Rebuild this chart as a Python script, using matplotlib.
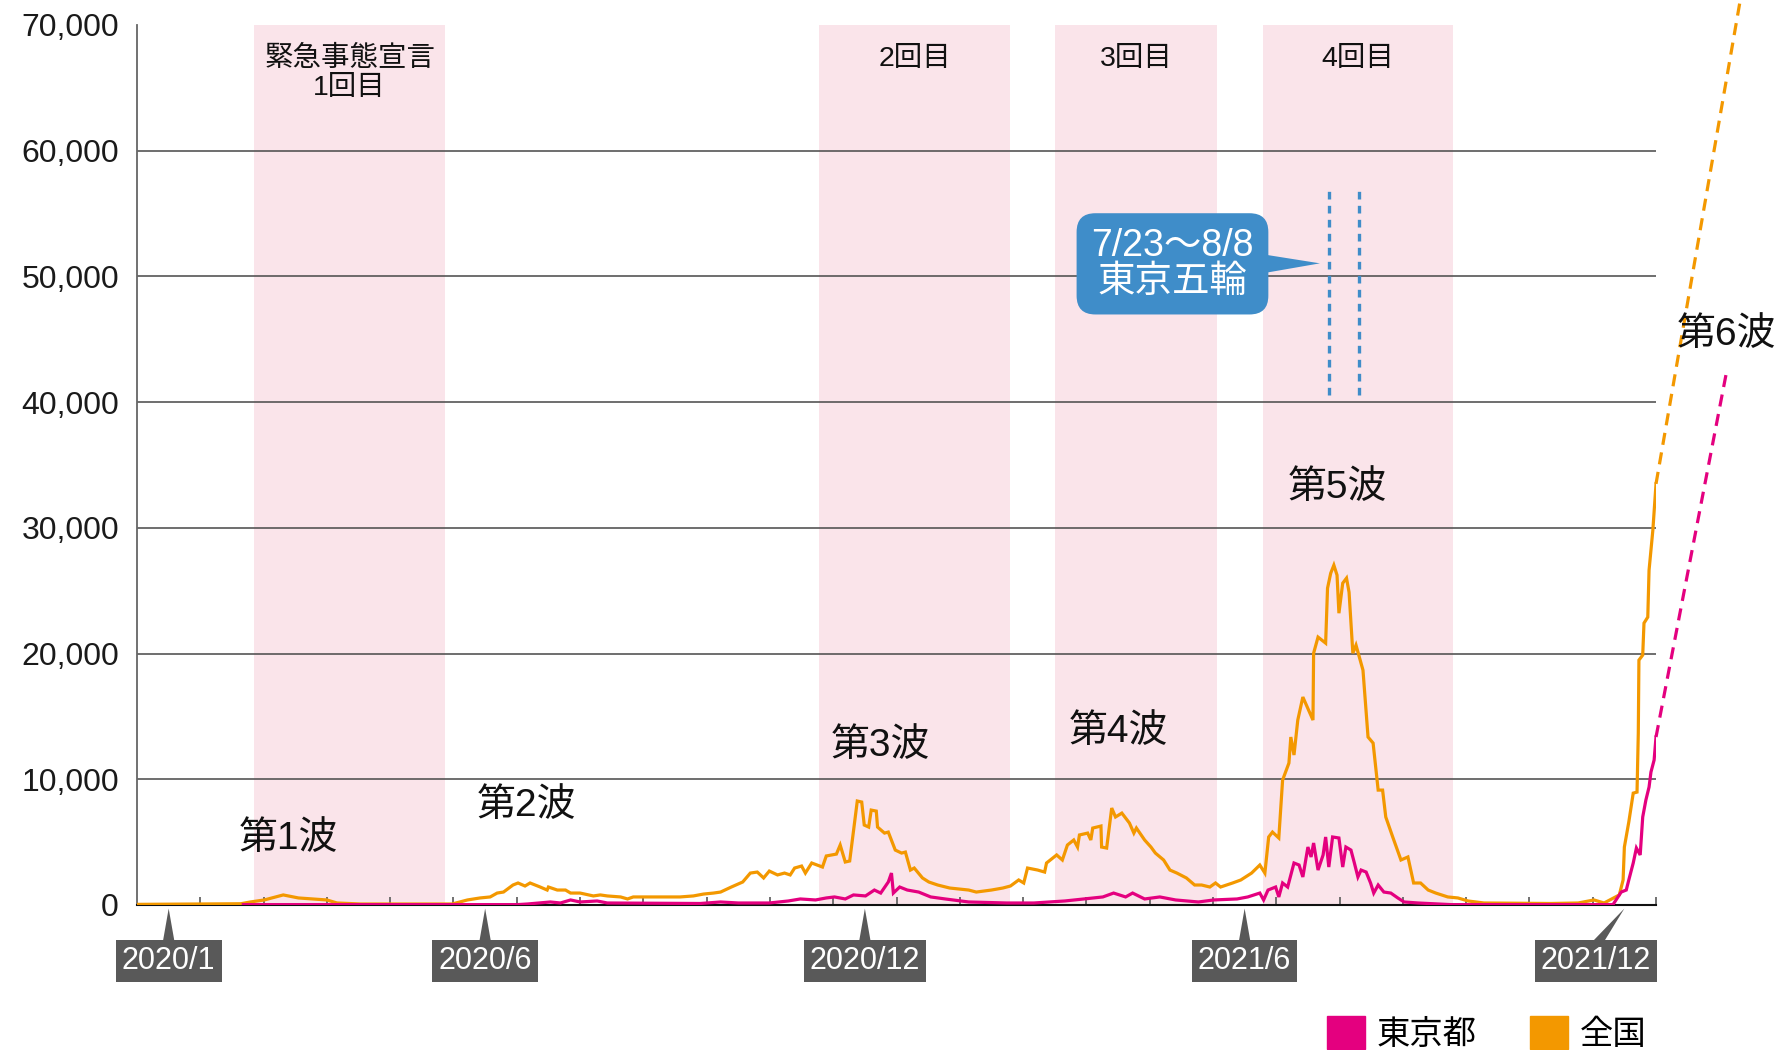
import matplotlib.pyplot as plt
from matplotlib.patches import Patch, Polygon
from matplotlib.transforms import blended_transform_factory

# ------------------------------------------------------------
# データ (x は 2020/1 からの月数、目盛りは各月の境目)
# ------------------------------------------------------------
japan_m = [0.00, 1.64, 1.79, 2.01, 2.31, 2.55, 3.00, 3.16, 3.53, 4.98,
           5.22, 5.42, 5.58, 5.69, 5.79, 5.94, 6.02, 6.13, 6.21, 6.37,
           6.48, 6.50, 6.64, 6.77, 6.85, 7.00, 7.21, 7.32, 7.43, 7.64,
           7.75, 7.84, 8.38, 8.58, 8.79, 8.95, 9.11, 9.22, 9.39, 9.57,
           9.69, 9.80, 9.90, 9.99, 10.12, 10.23, 10.32, 10.39, 10.50, 10.56,
           10.66, 10.83, 10.89, 11.05, 11.11, 11.19, 11.26, 11.38, 11.45, 11.49,
           11.56, 11.60, 11.68, 11.70, 11.81, 11.87, 11.98, 12.08, 12.14, 12.22,
           12.28, 12.41, 12.51, 12.65, 12.84, 13.14, 13.26, 13.50, 13.68, 13.80,
           13.93, 14.01, 14.07, 14.23, 14.34, 14.37, 14.53, 14.62, 14.70, 14.80,
           14.86, 14.89, 15.02, 15.07, 15.10, 15.23, 15.24, 15.32, 15.40, 15.46,
           15.56, 15.68, 15.75, 15.79, 15.92, 16.02, 16.09, 16.22, 16.32, 16.43,
           16.58, 16.71, 16.82, 16.95, 17.04, 17.12, 17.31, 17.44, 17.61, 17.74,
           17.82, 17.88, 17.94, 18.04, 18.10, 18.20, 18.23, 18.28, 18.34, 18.42,
           18.58, 18.59, 18.66, 18.78, 18.81, 18.86, 18.91, 18.96, 18.99, 19.05,
           19.11, 19.15, 19.21, 19.26, 19.37, 19.45, 19.53, 19.61, 19.68, 19.73,
           19.84, 19.97, 20.08, 20.17, 20.28, 20.40, 20.52, 20.71, 20.87, 21.03,
           21.28, 22.34, 22.77, 23.02, 23.18, 23.42, 23.48, 23.50, 23.57, 23.64,
           23.70, 23.72, 23.73, 23.79, 23.81, 23.87, 23.89, 23.95, 24.00]
japan_cases = [50, 100, 240, 400, 800, 560, 400, 160, 80, 80,
               400, 560, 640, 950, 1030, 1590, 1750, 1510, 1750, 1430,
               1190, 1430, 1190, 1190, 950, 950, 720, 800, 720, 640,
               480, 640, 640, 640, 720, 870, 950, 1030, 1430, 1830,
               2540, 2620, 2150, 2700, 2390, 2540, 2390, 2940, 3100, 2540,
               3340, 3020, 3900, 4050, 4770, 3420, 3500, 8270, 8190, 6360,
               6200, 7550, 7470, 6200, 5720, 5800, 4370, 4130, 4210, 2780,
               2940, 2150, 1830, 1590, 1350, 1190, 1030, 1190, 1350, 1510,
               1990, 1750, 2940, 2780, 2620, 3340, 3980, 3580, 4770, 5170,
               4610, 5570, 5720, 5170, 6120, 6280, 4610, 4530, 7710, 7000,
               7310, 6520, 5720, 6120, 5170, 4610, 4130, 3580, 2780, 2540,
               2150, 1590, 1590, 1430, 1750, 1430, 1750, 1990, 2540, 3180,
               2540, 5410, 5800, 5330, 9940, 11290, 13360, 11930, 14710, 16540,
               14710, 20030, 21310, 20830, 25200, 26390, 27030, 26240, 23210, 25600,
               26000, 24880, 20030, 20670, 18680, 13360, 12880, 9140, 9140, 7000,
               5410, 3580, 3820, 1750, 1750, 1190, 950, 640, 560, 320,
               160, 120, 160, 400, 160, 800, 1990, 4610, 6600, 8900,
               8980, 13670, 19480, 19880, 22420, 22900, 26630, 29810, 33500]

tokyo_m = [1.68, 6.01, 6.17, 6.53, 6.69, 6.85, 7.00, 7.27, 7.43, 8.90,
           9.22, 9.50, 9.99, 10.29, 10.48, 10.72, 10.89, 11.02, 11.19, 11.32,
           11.51, 11.65, 11.75, 11.87, 11.92, 11.95, 12.05, 12.17, 12.35, 12.54,
           12.77, 13.14, 13.74, 14.17, 14.66, 14.96, 15.26, 15.43, 15.62, 15.73,
           15.92, 16.16, 16.41, 16.77, 17.01, 17.38, 17.55, 17.74, 17.80, 17.87,
           17.99, 18.04, 18.10, 18.18, 18.28, 18.36, 18.42, 18.50, 18.55, 18.59,
           18.66, 18.74, 18.78, 18.83, 18.89, 18.99, 19.05, 19.10, 19.18, 19.23,
           19.29, 19.34, 19.42, 19.49, 19.54, 19.61, 19.70, 19.81, 19.92, 20.02,
           20.24, 20.76, 23.32, 23.45, 23.53, 23.57, 23.64, 23.69, 23.75, 23.79,
           23.84, 23.89, 23.92, 23.97, 24.00]
tokyo_cases = [30, 30, 80, 240, 160, 400, 240, 320, 160, 120,
               240, 160, 160, 320, 480, 400, 560, 640, 480, 800,
               720, 1190, 950, 1830, 2540, 950, 1430, 1190, 1030, 640,
               480, 240, 160, 160, 320, 480, 640, 950, 640, 950,
               480, 640, 400, 240, 400, 480, 640, 950, 400, 1190,
               1430, 640, 1750, 1430, 3340, 3180, 2230, 4610, 3820, 4930,
               2780, 3980, 5410, 3020, 5410, 5330, 3020, 4610, 4370, 3420,
               2230, 2780, 2620, 1750, 950, 1590, 1030, 950, 560, 240,
               160, 30, 30, 1030, 1190, 1990, 3340, 4530, 3980, 7000,
               8350, 9380, 10570, 11530, 13360]

# 第6波の見込み (点線)
japan_proj_m = [24.00, 25.33]
japan_proj_cases = [33500, 71950]
tokyo_proj_m = [24.00, 25.11]
tokyo_proj_cases = [13360, 42290]

# 緊急事態宣言の期間
decl_start = [1.85, 10.78, 14.50, 17.79]
decl_end = [4.87, 13.79, 17.07, 20.80]
decl_labels = ['緊急事態宣言\n1回目', '2回目', '3回目', '4回目']

# 東京五輪 7/23〜8/8
olympic_m = [18.83, 19.30]

# 波のラベル
wave_labels = ['第1波', '第2波', '第3波', '第4波', '第5波', '第6波']
wave_m = [2.39, 6.15, 11.75, 15.51, 18.96, 25.12]
wave_cases = [5250, 7870, 12640, 13750, 33150, 45310]

date_labels = ['2020/1', '2020/6', '2020/12', '2021/6', '2021/12']
date_m = [0.5, 5.5, 11.5, 17.5, 23.5]

y_ticks = [0, 10000, 20000, 30000, 40000, 50000, 60000, 70000]

# ------------------------------------------------------------
ORANGE = '#F39800'
PINK = '#E4007F'
BAND = '#FAE4EA'
BLUE = '#3F8DC9'
DATEBOX = '#595959'

plt.rcParams['font.family'] = ['Liberation Sans', 'Noto Sans CJK JP']

fig = plt.figure(figsize=(17.82, 10.5), dpi=100)
ax = fig.add_axes([0.0769, 0.1381, 0.8524, 0.8381])
ax.set_xlim(0, 24)
ax.set_ylim(0, 70000)

# 宣言期間の帯
for s, e, lab in zip(decl_start, decl_end, decl_labels):
    ax.axvspan(s, e, color=BAND, lw=0, zorder=0)
    ax.text((s + e) / 2, 68300, lab, ha='center', va='top', fontsize=20.5,
            color='#111111', linespacing=1.15, zorder=2)

for v in y_ticks[1:-1]:
    ax.axhline(v, color='#555555', lw=1.2, zorder=1)

# 五輪の点線と吹き出し
for m in olympic_m:
    ax.plot([m, m], [40540, 57000], color=BLUE, lw=2.4,
            linestyle=(0, (2.3, 1.9)), zorder=4)
ax.text(16.36, 51000, '7/23～8/8\n東京五輪', ha='center', va='center',
        color='white', fontsize=27, linespacing=1.0, zorder=6,
        bbox=dict(boxstyle='round,pad=0.39,rounding_size=0.5', fc=BLUE, ec='none'))
tip = olympic_m[0] - 0.14
ax.add_patch(Polygon([(17.6, 51910), (17.6, 50085), (tip, 51040)],
                     closed=True, fc=BLUE, ec='none', zorder=6))

# 折れ線
ax.plot(japan_m, japan_cases, color=ORANGE, lw=2.3, zorder=3, solid_joinstyle='miter')
ax.plot(tokyo_m, tokyo_cases, color=PINK, lw=2.3, zorder=3, solid_joinstyle='miter')
ax.plot(japan_proj_m, japan_proj_cases, color=ORANGE, lw=2.3,
        linestyle=(0, (3.8, 2.4)), clip_on=False, zorder=3)
ax.plot(tokyo_proj_m, tokyo_proj_cases, color=PINK, lw=2.3,
        linestyle=(0, (3.8, 2.4)), clip_on=False, zorder=3)

for lab, m, v in zip(wave_labels, wave_m, wave_cases):
    ax.text(m, v, lab, ha='center', va='center', fontsize=28,
            color='#111111', zorder=5, clip_on=False)

# 軸
ax.set_yticks(y_ticks)
ax.set_yticklabels([f'{v:,}' for v in y_ticks])
ax.tick_params(axis='y', length=0, pad=13, labelsize=23, labelcolor='#1a1a1a')
ax.set_xticks(range(1, 25))
ax.tick_params(axis='x', direction='in', length=6, width=1.3, color='#666666',
               labelbottom=False)
for side in ['top', 'right']:
    ax.spines[side].set_visible(False)
ax.spines['left'].set_color('#666666')
ax.spines['left'].set_linewidth(1.3)
ax.spines['bottom'].set_color('#111111')
ax.spines['bottom'].set_linewidth(1.5)
ax.spines['bottom'].set_zorder(2.5)

# 日付ラベル
trans = blended_transform_factory(ax.transData, ax.transAxes)
for lab, m in zip(date_labels, date_m):
    bx = min(m, 24 - 0.95)
    ax.text(bx, -0.0635, lab, transform=trans, ha='center', va='center',
            color='white', fontsize=22, clip_on=False,
            bbox=dict(boxstyle='square,pad=0.2', fc=DATEBOX, ec='none'))
    ax.add_patch(Polygon([(bx - 0.1, -0.045), (bx + 0.1, -0.045), (m, -0.004)],
                         closed=True, fc=DATEBOX, ec='none', transform=trans,
                         clip_on=False))

# 凡例
handles = [Patch(color=PINK, label='東京都'), Patch(color=ORANGE, label='全国')]
fig.legend(handles=handles, loc='lower right', bbox_to_anchor=(0.926, -0.004),
           ncol=2, frameon=False, fontsize=24, handlelength=1.15,
           handleheight=1.15, handletextpad=0.35, columnspacing=1.6,
           borderpad=0.1, borderaxespad=0)

fig.savefig('out.png', dpi=100)
